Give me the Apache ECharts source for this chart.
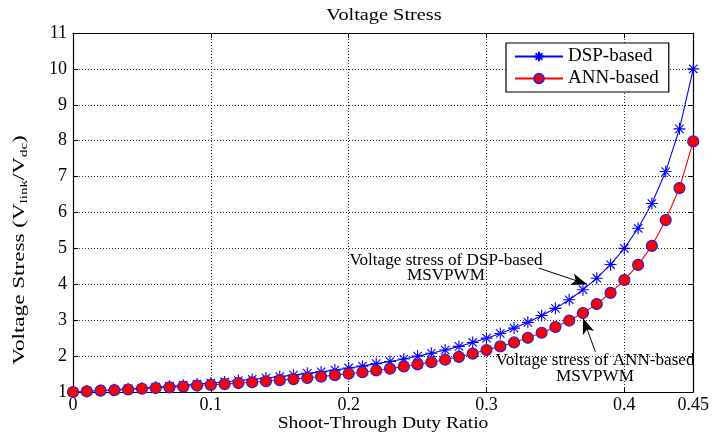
<!DOCTYPE html>
<html>
<head>
<meta charset="utf-8">
<script src="https://cdn.jsdelivr.net/npm/echarts@6/dist/echarts.min.js"></script>
<style>
  html, body { margin: 0; padding: 0; background: #fff; }
  #chart { width: 712px; height: 437px; }
</style>
</head>
<body>
<div id="chart"></div>
<script>
// Shoot-through duty ratio (x) and the two voltage-stress curves
const duty = [0, 0.01, 0.02, 0.03, 0.04, 0.05, 0.06, 0.07, 0.08, 0.09,
  0.10, 0.11, 0.12, 0.13, 0.14, 0.15, 0.16, 0.17, 0.18, 0.19,
  0.20, 0.21, 0.22, 0.23, 0.24, 0.25, 0.26, 0.27, 0.28, 0.29,
  0.30, 0.31, 0.32, 0.33, 0.34, 0.35, 0.36, 0.37, 0.38, 0.39,
  0.40, 0.41, 0.42, 0.43, 0.44, 0.45];

const dspStress = [1.00, 1.02, 1.04, 1.06, 1.09, 1.11, 1.14, 1.16, 1.19, 1.22,
  1.25, 1.28, 1.32, 1.35, 1.39, 1.43, 1.47, 1.52, 1.56, 1.61,
  1.67, 1.72, 1.79, 1.85, 1.92, 2.00, 2.08, 2.17, 2.27, 2.38,
  2.50, 2.63, 2.78, 2.94, 3.13, 3.33, 3.57, 3.85, 4.17, 4.55,
  5.00, 5.56, 6.25, 7.14, 8.33, 10.00];

const annStress = [1.00, 1.02, 1.04, 1.05, 1.07, 1.09, 1.11, 1.13, 1.15, 1.18,
  1.20, 1.22, 1.25, 1.27, 1.30, 1.33, 1.36, 1.39, 1.43, 1.47,
  1.51, 1.55, 1.60, 1.65, 1.71, 1.77, 1.83, 1.90, 1.98, 2.07,
  2.17, 2.27, 2.38, 2.51, 2.65, 2.81, 2.99, 3.20, 3.45, 3.76,
  4.12, 4.54, 5.07, 5.79, 6.68, 7.98];

const seriesNames = ['DSP-based', 'ANN-based'];
const xRange = [0, 0.45];
const yRange = [1, 11];

const FONT = '"Liberation Serif", "Times New Roman", serif';
const starPath = 'path://M0,-10L0,10M-10,0L10,0M-7,-7L7,7M-7,7L7,-7';

const chart = echarts.init(document.getElementById('chart'), null, { renderer: 'canvas' });

const frameAxisX = {
  min: xRange[0], max: xRange[1], interval: 0.1,
  axisLine: { show: true, onZero: false, lineStyle: { color: '#000', width: 1.2 } },
  axisTick: { show: true, inside: true, length: 5, lineStyle: { color: '#000' } },
  splitLine: { show: false }
};
const frameAxisY = {
  min: yRange[0], max: yRange[1], interval: 1,
  axisLine: { show: true, onZero: false, lineStyle: { color: '#000', width: 1.2 } },
  axisTick: { show: true, inside: true, length: 5, lineStyle: { color: '#000' } },
  splitLine: { show: false }
};

// horizontally widened serif text block
function wideText(x, y, text, size, sx, extra) {
  return Object.assign({
    type: 'text', x: x, y: y, scaleX: sx, scaleY: 1, z: 100,
    style: Object.assign({
      x: 0, y: 0, text: text, align: 'center', verticalAlign: 'middle',
      font: size + 'px ' + FONT, fill: '#000'
    }, extra || {})
  });
}

chart.setOption({
  animation: false,
  backgroundColor: '#fff',
  textStyle: { fontFamily: FONT, color: '#000' },
  grid: { left: 73, right: 17, top: 33, bottom: 45 },
  legend: {
    left: 506, top: 43,
    orient: 'vertical',
    itemWidth: 48, itemHeight: 12, itemGap: 3,
    padding: [4, 10, 4, 8],
    backgroundColor: '#fff',
    borderColor: '#000', borderWidth: 1.2, borderRadius: 0,
    textStyle: { fontFamily: FONT, fontSize: 19, color: '#000' },
    data: seriesNames
  },
  xAxis: [
    Object.assign({}, frameAxisX, {
      type: 'value', position: 'bottom',
      axisLabel: { fontFamily: FONT, fontSize: 18, color: '#000', margin: 4,
        showMinLabel: true, showMaxLabel: true },
      splitLine: { show: true, lineStyle: { color: '#222', type: [1, 2], width: 1 } }
    }),
    Object.assign({}, frameAxisX, {
      type: 'value', position: 'top', axisLabel: { show: false }
    })
  ],
  yAxis: [
    Object.assign({}, frameAxisY, {
      type: 'value', position: 'left',
      axisLabel: { fontFamily: FONT, fontSize: 18, color: '#000', margin: 6 },
      splitLine: { show: true, lineStyle: { color: '#222', type: [1, 2], width: 1 } }
    }),
    Object.assign({}, frameAxisY, {
      type: 'value', position: 'right', axisLabel: { show: false }
    })
  ],
  series: [
    {
      name: seriesNames[0], type: 'line', xAxisIndex: 0, yAxisIndex: 0,
      data: duty.map((d, i) => [d, dspStress[i]]),
      symbol: starPath, symbolSize: 12,
      itemStyle: { color: 'rgba(0,0,0,0)', borderColor: '#0000ff', borderWidth: 1.1 },
      lineStyle: { color: '#0000ff', width: 1.1 },
      z: 2,
      markLine: {
        silent: true, symbol: ['none', 'arrow'], symbolSize: [9, 16],
        label: { show: false },
        lineStyle: { color: '#000', width: 1, type: 'solid' },
        data: [[{ coord: [0.338, 4.45] }, { coord: [0.373, 4.0] }]]
      }
    },
    {
      name: seriesNames[1], type: 'line', xAxisIndex: 0, yAxisIndex: 0,
      data: duty.map((d, i) => [d, annStress[i]]),
      symbol: 'circle', symbolSize: 11,
      itemStyle: { color: '#ff0000', borderColor: '#2222dd', borderWidth: 1.2 },
      lineStyle: { color: '#ff0000', width: 1.1 },
      z: 3,
      markLine: {
        silent: true, symbol: ['none', 'arrow'], symbolSize: [9, 16],
        label: { show: false },
        lineStyle: { color: '#000', width: 1, type: 'solid' },
        data: [[{ coord: [0.379, 2.12] }, { coord: [0.370, 3.06] }]]
      }
    }
  ],
  graphic: [
    wideText(384, 16, 'Voltage Stress', 16, 1.27),
    wideText(383, 424, 'Shoot-Through Duty Ratio', 17, 1.15),
    {
      type: 'text', x: 20, y: 250, rotation: Math.PI / 2, scaleX: 1.36, z: 100,
      style: {
        x: 0, y: 0,
        text: 'Voltage Stress (V{sub|link}/V{sub|dc})',
        align: 'center', verticalAlign: 'middle',
        font: '17px ' + FONT, fill: '#000',
        rich: { sub: { fontSize: 11, fontFamily: FONT, verticalAlign: 'top', padding: [9, 0, 0, 0] } }
      }
    },
    wideText(446, 268, 'Voltage stress of DSP-based\nMSVPWM', 16, 1.07, { lineHeight: 15 }),
    wideText(595, 369, 'Voltage stress of ANN-based\nMSVPWM', 16, 1.07, { lineHeight: 16 })
  ]
});
</script>
</body>
</html>
